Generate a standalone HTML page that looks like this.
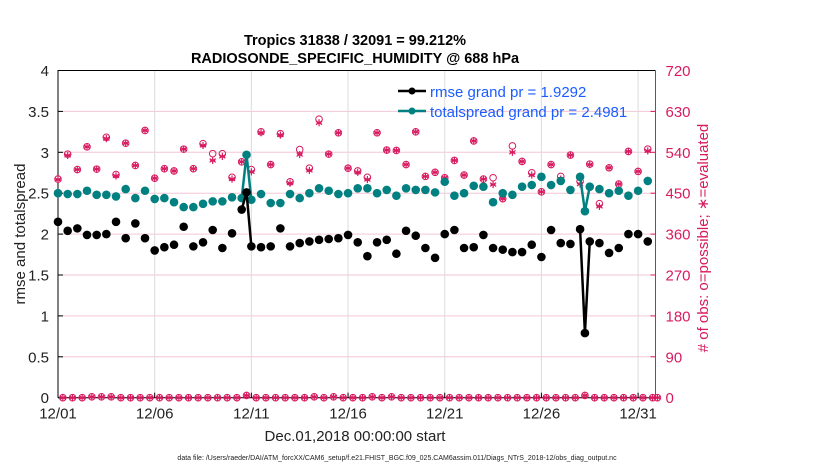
<!DOCTYPE html>
<html><head><meta charset="utf-8"><style>
body{margin:0;background:#fff;}
svg{display:block;font-family:"Liberation Sans",Arial,sans-serif;}
</style></head><body>
<svg id="chart" width="830" height="470" viewBox="0 0 830 470" xmlns="http://www.w3.org/2000/svg">
<rect width="830" height="470" fill="#fff"/>
<g id="grid"></g>
<g id="axes"></g>
<g id="marks"></g>
<text x="355" y="45" text-anchor="middle" font-size="14.5" font-weight="bold" fill="#000">Tropics 31838 / 32091 = 99.212%</text>
<text x="355" y="63" text-anchor="middle" font-size="14.5" font-weight="bold" fill="#000">RADIOSONDE_SPECIFIC_HUMIDITY @ 688 hPa</text>
<text transform="translate(25,234) rotate(-90)" text-anchor="middle" font-size="15" fill="#222">rmse and totalspread</text>
<text transform="translate(708,238) rotate(-90)" text-anchor="middle" font-size="15" fill="#d81b60"># of obs: o=possible; ∗=evaluated</text>
<text x="355" y="441" text-anchor="middle" font-size="15" fill="#222">Dec.01,2018 00:00:00 start</text>
<text x="397" y="460" text-anchor="middle" font-size="7" fill="#222">data file: /Users/raeder/DAI/ATM_forcXX/CAM6_setup/f.e21.FHIST_BGC.f09_025.CAM6assim.011/Diags_NTrS_2018-12/obs_diag_output.nc</text>
<g>
  <g>
    <line x1="398" y1="91" x2="426" y2="91" stroke="#000" stroke-width="2.5"/>
    <circle cx="412" cy="91" r="3.5" fill="#000"/>
    <text x="430" y="97" font-size="15" fill="#1a5cff">rmse grand pr = 1.9292</text>
  </g>
  <g>
    <line x1="398" y1="111" x2="426" y2="111" stroke="#008080" stroke-width="2.5"/>
    <circle cx="412" cy="111" r="3.5" fill="#008080"/>
    <text x="430" y="117" font-size="15" fill="#1a5cff">totalspread grand pr = 2.4981</text>
  </g>
</g>
</svg>
<script>
// time (days since 12/01 00Z) of each diagnostic bin with data
const times = [0,0.5,1,1.5,2,2.5,3,3.5,4,4.5,5,5.5,6,6.5,7,7.5,8,8.5,9,9.5,9.75,10,10.5,11,11.5,12,12.5,13,13.5,14,14.5,15,15.5,16,16.5,17,17.5,18,18.5,19,19.5,20,20.5,21,21.5,22,22.5,23,23.5,24,24.5,25,25.5,26,26.5,27,27.25,27.5,28,28.5,29,29.5,30,30.5];
const rmse = [2.15,2.04,2.07,1.99,1.99,2.0,2.15,1.95,2.13,1.95,1.80,1.84,1.87,2.09,1.85,1.90,2.05,1.83,2.01,2.30,2.51,1.85,1.84,1.85,2.07,1.85,1.89,1.91,1.93,1.94,1.95,1.99,1.90,1.73,1.90,1.93,1.76,2.04,1.98,1.83,1.71,2.00,2.05,1.83,1.84,1.99,1.83,1.81,1.78,1.78,1.87,1.72,2.05,1.89,1.88,2.06,0.79,1.91,1.89,1.77,1.83,2.0,2.0,1.91];
const spread = [2.50,2.49,2.49,2.53,2.48,2.48,2.46,2.55,2.44,2.53,2.43,2.44,2.39,2.33,2.33,2.37,2.40,2.40,2.45,2.44,2.97,2.42,2.49,2.38,2.38,2.49,2.44,2.50,2.56,2.53,2.49,2.50,2.56,2.56,2.50,2.54,2.47,2.56,2.54,2.54,2.51,2.64,2.47,2.50,2.59,2.58,2.39,2.50,2.48,2.58,2.60,2.70,2.60,2.65,2.54,2.70,2.28,2.58,2.55,2.50,2.53,2.47,2.53,2.65];
const evaluated = [480,533,502,552,503,570,488,560,511,588,483,504,499,547,504,555,522,531,481,519,5,497,583,513,578,472,535,500,605,536,583,505,496,480,583,545,544,513,585,487,496,484,522,490,565,481,469,438,540,520,490,453,513,481,534,470,5,513,421,506,470,542,498,543];
const possible = [481,536,502,552,503,573,491,560,511,588,483,504,499,547,504,559,537,537,485,519,5,502,585,513,581,475,546,505,613,536,583,505,499,485,583,545,544,513,585,487,496,484,522,490,565,481,484,438,554,520,495,453,513,487,534,476,5,514,427,506,470,542,498,547];
// empty bins (no observations)
const emptyTimes = [0.25,0.75,1.25,1.75,2.25,2.75,3.25,3.75,4.25,4.75,5.25,5.75,6.25,6.75,7.25,7.75,8.25,8.75,9.25,10.25,10.75,11.25,11.75,12.25,12.75,13.25,13.75,14.25,14.75,15.25,15.75,16.25,16.75,17.25,17.75,18.25,18.75,19.25,19.75,20.25,20.75,21.25,21.75,22.25,22.75,23.25,23.75,24.25,24.75,25.25,25.75,26.25,26.75,27.75,28.25,28.75,29.25,29.75,30.25,30.75,31];
const emptyCounts = [0,0,0,2,2,2,0,0,0,0,0,0,0,0,0,0,0,0,0,0,0,0,0,0,0,2,0,2,0,0,0,2,0,2,0,0,0,0,0,0,0,0,0,0,0,0,0,0,0,0,0,0,0,0,0,0,0,0,0,0,0];
const leftTicks = [0,0.5,1,1.5,2,2.5,3,3.5,4];
const leftTickLabels = ["0","0.5","1","1.5","2","2.5","3","3.5","4"];
const rightTicks = [0,90,180,270,360,450,540,630,720];
const xTicks = [0,5,10,15,20,25,30];
const xTickLabels = ["12/01","12/06","12/11","12/16","12/21","12/26","12/31"];

const L=58,R=655.5,T=70.5,B=397.7,TMAX=30.9;
const X=t=>L+(R-L)*t/TMAX;
const Y=v=>B-(B-T)*v/4;
const Y2=c=>B-(B-T)*c/720;
const NS="http://www.w3.org/2000/svg";
function mk(tag,parent,attrs){const e=document.createElementNS(NS,tag);for(const k in attrs)e.setAttribute(k,attrs[k]);parent.appendChild(e);return e;}
const grid=document.getElementById('grid'),axes=document.getElementById('axes'),marks=document.getElementById('marks');
const PINK="#d81b60";

leftTicks.forEach((v,i)=>{
  const g=mk('line',grid,{x1:L,x2:R,y1:Y(v),y2:Y(v),stroke:'#f3c6d6','stroke-width':1});
  
  
  const tk=mk('line',axes,{x1:L,x2:L+5,y1:Y(v),y2:Y(v),stroke:'#000'});
  
  
  const t=mk('text',axes,{x:L-9,y:Y(v)+5.5,'text-anchor':'end','font-size':15,fill:'#222'});
  t.textContent=leftTickLabels[i];
  
  
});
rightTicks.forEach(c=>{
  const tk=mk('line',axes,{x1:R-5,x2:R,y1:Y2(c),y2:Y2(c),stroke:PINK});
  
  
  const t=mk('text',axes,{x:R+10,y:Y2(c)+5.5,'font-size':15,fill:PINK});
  t.textContent=String(c);
  
  
});
xTicks.forEach((d,i)=>{
  const g=mk('line',grid,{x1:X(d),x2:X(d),y1:T,y2:B,stroke:'#dcdcdc','stroke-width':1});
  
  
  const tk=mk('line',axes,{x1:X(d),x2:X(d),y1:B,y2:B-5,stroke:'#000'});
  
  
  const t=mk('text',axes,{x:X(d),y:B+21,'text-anchor':'middle','font-size':15,fill:'#222'});
  t.textContent=xTickLabels[i];
  
  
});
const fr=mk('path',axes,{d:`M${L},${B}V${T}H${R}`,fill:'none',stroke:'#000','stroke-width':1});


const bx=mk('line',axes,{x1:L,x2:R,y1:B,y2:B,stroke:'#000'});


const rx=mk('line',axes,{x1:R,x2:R,y1:T,y2:B,stroke:PINK});



function star(parent,cx,cy,r,color,sw){
  const g=mk('g',parent,{stroke:color,'stroke-width':sw,fill:'none'});
  for(let a=0;a<3;a++){const ang=Math.PI/2+a*Math.PI/3;mk('line',g,{x1:cx-r*Math.cos(ang),y1:cy-r*Math.sin(ang),x2:cx+r*Math.cos(ang),y2:cy+r*Math.sin(ang)});}
  mk('line',g,{x1:cx-r*0.7,y1:cy,x2:cx+r*0.7,y2:cy});
  return g;
}
times.forEach((t,i)=>{
  const c=mk('circle',marks,{cx:X(t),cy:Y2(possible[i]),r:3.3,fill:'none',stroke:PINK,'stroke-width':1});
  
  
  const s=star(marks,X(t),Y2(evaluated[i]),3.6,PINK,1.2);
  
  
});
emptyTimes.forEach((t,i)=>{
  const c=mk('circle',marks,{cx:X(t),cy:Y2(emptyCounts[i]),r:3.3,fill:'none',stroke:PINK,'stroke-width':1});
  
  
  const s=star(marks,X(t),Y2(emptyCounts[i]),3.6,PINK,1.2);
  
  
});
function series(vals,color,name){
  for(let i=1;i<times.length;i++){
    if(times[i]-times[i-1]<=0.26){
      const l=mk('line',marks,{x1:X(times[i-1]),y1:Y(vals[i-1]),x2:X(times[i]),y2:Y(vals[i]),stroke:color,'stroke-width':2.5});
      
      
    }
  }
  times.forEach((t,i)=>{
    const c=mk('circle',marks,{cx:X(t),cy:Y(vals[i]),r:4.3,fill:color});
    
    
  });
}
series(spread,'#008080','totalspread');
series(rmse,'#000','rmse');
</script>
</body></html>
